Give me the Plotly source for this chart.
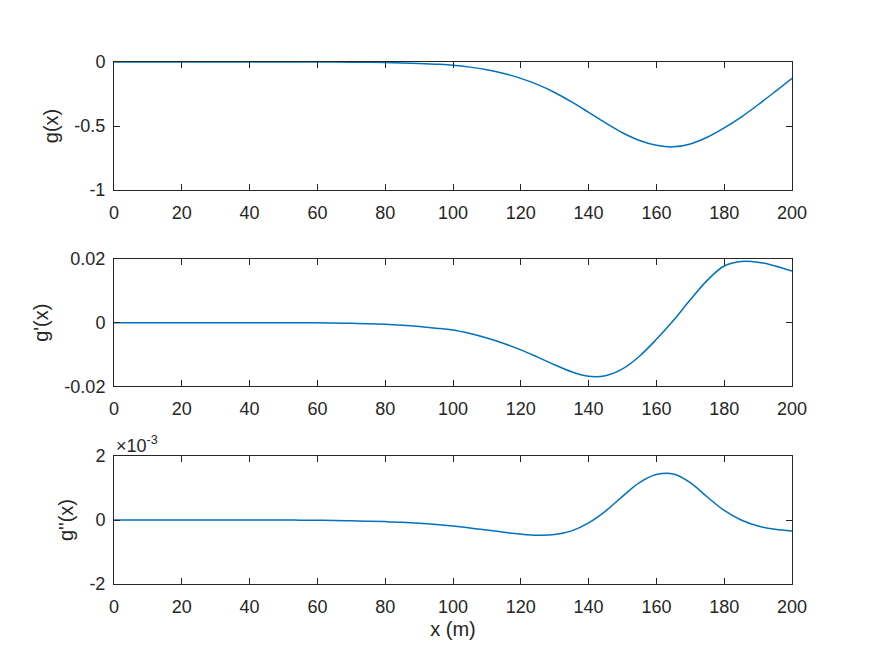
import plotly.graph_objects as go

x = [0, 5, 10, 15, 20, 25, 30, 35, 40, 45, 50, 55, 60, 65, 70, 75, 80, 85, 90, 95,
     100, 105, 110, 115, 120, 125, 130, 135, 140, 145, 150, 155, 160, 165, 170, 175,
     180, 185, 190, 195, 200]

g = [0, 0, 0, 0, 0, 0, 0, 0, 0, 0, 0, 0, 0, -0.0005, -0.001, -0.002, -0.004, -0.007,
     -0.011, -0.017, -0.025, -0.040, -0.061, -0.090, -0.128, -0.177, -0.238, -0.312,
     -0.393, -0.476, -0.553, -0.613, -0.650, -0.663, -0.640, -0.588, -0.515, -0.430,
     -0.334, -0.232, -0.127]

g1 = [0, 0, 0, 0, 0, 0, 0, 0, 0, 0, 0, 0, 0, -0.0001, -0.0002, -0.0003, -0.0005,
      -0.0008, -0.0012, -0.0017, -0.0023, -0.0034, -0.0048, -0.0065, -0.0085, -0.0108,
      -0.0132, -0.0154, -0.0168, -0.0166, -0.0145, -0.0105, -0.0052, 0.0007, 0.0072,
      0.0133, 0.0178, 0.0192, 0.0190, 0.0178, 0.0162]

g2 = [0, 0, 0, 0, 0, 0, 0, 0, 0, 0, 0, -0.000005, -0.00001, -0.000015, -0.000025,
      -0.000035, -0.00005, -0.00007, -0.0001, -0.00014, -0.00019, -0.00025, -0.00031,
      -0.00038, -0.00044, -0.000475, -0.000455, -0.00034, -0.00009, 0.00028, 0.00074,
      0.00117, 0.00142, 0.00144, 0.00117, 0.00072, 0.00030, 0.0, -0.00019,
      -0.00029, -0.00034]

x_ticks = [0, 20, 40, 60, 80, 100, 120, 140, 160, 180, 200]
y1_ticks = [-1, -0.5, 0]
y1_text = ["-1", "-0.5", "0"]
y2_ticks = [-0.02, 0, 0.02]
y2_text = ["-0.02", "0", "0.02"]
y3_ticks = [-0.002, 0, 0.002]
y3_text = ["-2", "0", "2"]

blue = "#0072BD"
axc = "#262626"
font = "Liberation Sans Narrow, Liberation Sans, Arial, sans-serif"

fig = go.Figure()
series = [g, g1, g2]
for i, s in enumerate(series):
    fig.add_trace(go.Scatter(x=x, y=s, mode="lines",
                             line=dict(color=blue, width=1.5, shape="spline", smoothing=1.0),
                             xaxis="x" if i == 0 else f"x{i+1}",
                             yaxis="y" if i == 0 else f"y{i+1}",
                             showlegend=False, hoverinfo="skip"))

domains = [[0.7548, 1.0], [0.3784, 0.6226], [0.0, 0.2452]]
yticks = [(y1_ticks, y1_text, [-1, 0], "g(x)"),
          (y2_ticks, y2_text, [-0.02, 0.02], "g'(x)"),
          (y3_ticks, y3_text, [-0.002, 0.002], "g''(x)")]

common = dict(showline=True, linecolor=axc, linewidth=1, mirror="ticks", ticks="inside",
              ticklen=6, tickcolor=axc, showgrid=False, zeroline=False,
              tickfont=dict(family=font, size=18, color=axc))

layout = dict(width=875, height=659, margin=dict(l=114, r=83, t=62, b=75),
              paper_bgcolor="white", plot_bgcolor="white",
              font=dict(family=font, size=18, color=axc))

for i in range(3):
    xa = "xaxis" if i == 0 else f"xaxis{i+1}"
    ya = "yaxis" if i == 0 else f"yaxis{i+1}"
    xd = dict(common, range=[0, 200], tickvals=x_ticks, domain=[0, 1],
              anchor="y" if i == 0 else f"y{i+1}", ticklabelstandoff=6)
    if i == 2:
        xd["title"] = dict(text="x (m)", font=dict(family=font, size=20, color=axc), standoff=6)
    tv, tt, rng, lab = yticks[i]
    yd = dict(common, range=rng, tickvals=tv, ticktext=tt, domain=domains[i],
              anchor="x" if i == 0 else f"x{i+1}", ticklabelstandoff=4,
              title=dict(text=lab, font=dict(family=font, size=20, color=axc), standoff=10))
    layout[xa] = xd
    layout[ya] = yd

fig.update_layout(**layout)
fig.add_annotation(xref="paper", yref="paper", x=0, y=0.2452, xanchor="left", yanchor="bottom",
                   text="×10<sup>-3</sup>", showarrow=False, yshift=-2,
                   font=dict(family=font, size=18, color=axc))

fig.write_html("out.html")
